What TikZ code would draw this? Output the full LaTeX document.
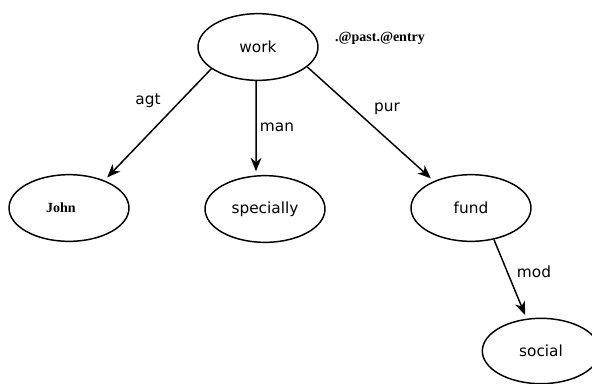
\documentclass[tikz,border=0pt]{standalone}
\usepackage{fontspec}
\setmainfont{DejaVu Sans}
\newfontfamily\tnr{Liberation Serif}
\usetikzlibrary{shapes.geometric}
\usetikzlibrary{arrows.meta}
\tikzset{>={Stealth[length=10pt,width=8pt,inset=3pt]}}

\begin{document}
\begin{tikzpicture}[x=0.75pt,y=-0.75pt,
    concept/.style={draw,line width=1.1pt,ellipse,inner sep=0pt,minimum width=90pt,minimum height=50pt,font=\fontsize{11.5}{13}\selectfont},
    rel/.style={font=\fontsize{11.5}{13}\selectfont},
    arc/.style={->,line width=1.1pt,shorten >=3pt}]
    \useasboundingbox (0,0) rectangle (592,383);
    \node[concept] (work) at (258,47) {work};
    \node[concept] (john) at (69,208) {\tnr\bfseries\fontsize{10.5}{12}\selectfont John\hspace*{12pt}};
    \node[concept] (specially) at (265,209) {specially};
    \node[concept] (fund) at (471,208) {fund};
    \node[concept,minimum width=88pt,minimum height=49pt] (social) at (541,351) {social};
    \node[font=\tnr\bfseries\fontsize{10.5}{12}\selectfont] (attr) at (380,38) {.@past.@entry};
    \draw[arc] (work.205) -- (john.38);
    \draw[arc] (work.267) -- (specially.105.5);
    \draw[arc] (work.338) -- (fund.144);
    \draw[arc] (fund.306) -- (social.114);
    \node[rel] (agt) at (148,101) {agt};
    \node[rel] (man) at (277,127) {man};
    \node[rel] (pur) at (387,109) {pur};
    \node[rel] (mod) at (534,272) {mod};
\end{tikzpicture}
\end{document}
